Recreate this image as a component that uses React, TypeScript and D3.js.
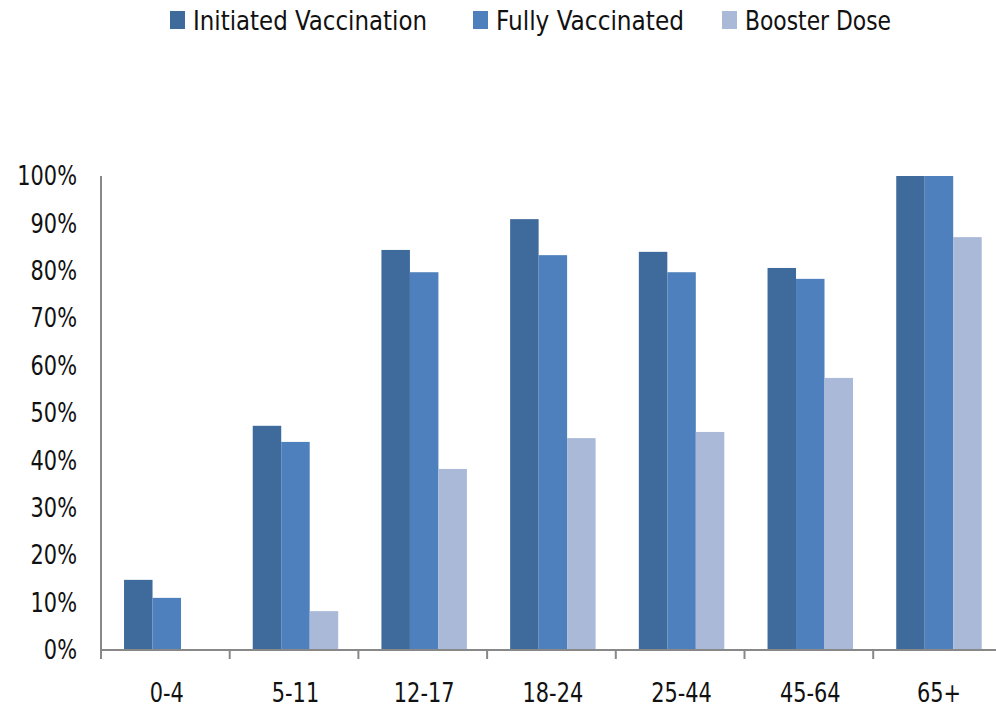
import * as d3 from "d3";

const ageGroups = ["0-4", "5-11", "12-17", "18-24", "25-44", "45-64", "65+"];
const seriesNames = ["Initiated Vaccination", "Fully Vaccinated", "Booster Dose"];
const initiated = [14.8, 47.3, 84.4, 90.9, 84.0, 80.6, 100];
const fullyVaccinated = [11.0, 43.9, 79.7, 83.3, 79.7, 78.3, 100];
const boosterDose = [0, 8.2, 38.2, 44.7, 46.0, 57.4, 87.1];
const yTicks = [0, 10, 20, 30, 40, 50, 60, 70, 80, 90, 100];

const colors = ["#3E6A9C", "#4E80BD", "#A9B9D7"];
const font = "'Liberation Sans Narrow', 'DejaVu Sans Condensed', 'Open Sans', sans-serif";
const squeeze = 0.86; // the original font is narrower than the ones we have

export default function App() {
  const width = 996;
  const height = 708;
  const left = 101;
  const step = 128.7;
  const top = 176;
  const bottom = 650;
  const padIn = 0.336;
  const padOut = 0.179;

  // range sized so that the band step comes out at exactly `step`
  const x = d3
    .scaleBand<string>()
    .domain(ageGroups)
    .range([left, left + step * (ageGroups.length - padIn + 2 * padOut)])
    .paddingInner(padIn)
    .paddingOuter(padOut);

  const xSeries = d3
    .scaleBand<string>()
    .domain(seriesNames)
    .range([0, x.bandwidth()]);

  const y = d3.scaleLinear().domain([0, 100]).range([bottom, top]);

  const series = [initiated, fullyVaccinated, boosterDose];
  const boundaries = d3.range(ageGroups.length + 1).map((i) => left + i * step);

  // legend positions (text start)
  const legendX = [170, 473, 722];
  const legendW = [234, 188, 146];

  return (
    <svg
      width={width}
      height={height}
      style={{ position: "absolute", left: 0, top: 0, background: "#fff" }}
      fontFamily={font}
    >
      {/* legend */}
      {seriesNames.map((name, i) => (
        <g key={name}>
          <rect x={legendX[i]} y={11} width={15} height={18} fill={colors[i]} />
          <text
            x={legendX[i] + 23}
            y={20}
            dominantBaseline="central"
            fontSize={27}
            fill="#111"
            textLength={legendW[i]}
            lengthAdjust="spacingAndGlyphs"
          >
            {name}
          </text>
        </g>
      ))}

      {/* bars */}
      {ageGroups.map((g, gi) => (
        <g key={g} transform={`translate(${x(g)},0)`}>
          {series.map((vals, si) =>
            vals[gi] > 0 ? (
              <rect
                key={si}
                x={xSeries(seriesNames[si])}
                y={y(vals[gi])}
                width={xSeries.bandwidth()}
                height={y(0) - y(vals[gi])}
                fill={colors[si]}
              />
            ) : null
          )}
        </g>
      ))}

      {/* y axis */}
      <line x1={left} x2={left} y1={top} y2={bottom} stroke="#888" strokeWidth={2} />
      {yTicks.map((t) => (
        <text
          key={t}
          transform={`translate(77,${y(t)}) scale(${squeeze},1)`}
          textAnchor="end"
          dominantBaseline="central"
          fontSize={27}
          fill="#111"
        >
          {t}%
        </text>
      ))}

      {/* x axis */}
      <line x1={left} x2={width} y1={bottom} y2={bottom} stroke="#888" strokeWidth={2} />
      {boundaries.map((b, i) => (
        <line key={i} x1={b} x2={b} y1={bottom} y2={bottom + 9} stroke="#888" strokeWidth={2} />
      ))}
      {ageGroups.map((g) => (
        <text
          key={g}
          transform={`translate(${(x(g) ?? 0) + x.bandwidth() / 2},693) scale(${squeeze},1)`}
          textAnchor="middle"
          dominantBaseline="central"
          fontSize={27}
          fill="#111"
        >
          {g}
        </text>
      ))}
    </svg>
  );
}
